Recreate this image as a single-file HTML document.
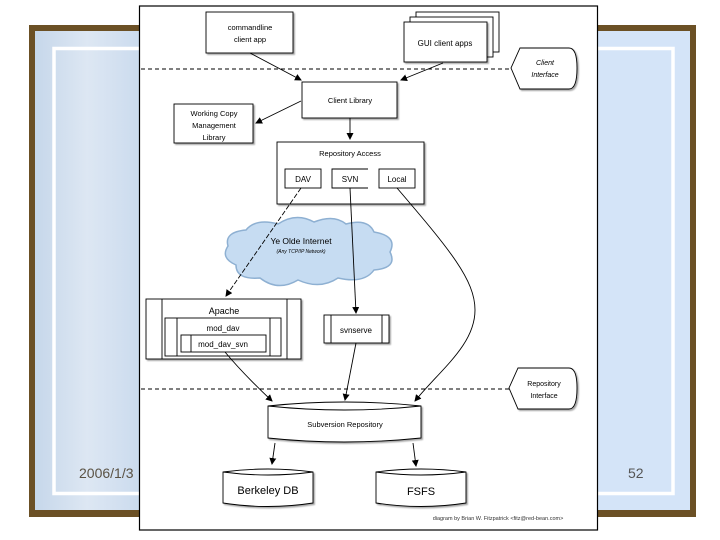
<!DOCTYPE html>
<html><head><meta charset="utf-8"><style>
html,body{margin:0;padding:0;background:#fff;}
svg{display:block;font-family:"Liberation Sans",sans-serif;}
</style></head><body>
<svg width="720" height="540" viewBox="0 0 720 540" xmlns="http://www.w3.org/2000/svg">
<defs>
<linearGradient id="lg" x1="0" x2="1" y1="0" y2="0">
<stop offset="0" stop-color="#c6d7ea"/><stop offset="0.5" stop-color="#dde7f3"/><stop offset="1" stop-color="#cbdbee"/>
</linearGradient>
<marker id="ar" markerWidth="7" markerHeight="7" refX="6" refY="3.5" orient="auto" markerUnits="userSpaceOnUse">
<path d="M0,0 L7,3.5 L0,7 z" fill="#000"/></marker>
<filter id="sh"><feDropShadow dx="1.5" dy="1.5" stdDeviation="0.8" flood-opacity="0.35"/></filter>
</defs>
<rect x="29" y="25" width="667" height="492" fill="#6b5025"/>
<rect x="35" y="31" width="655" height="479" fill="#d4e4f8"/>
<rect x="35" y="31" width="105" height="479" fill="url(#lg)"/>
<rect x="54" y="48.5" width="619" height="445" fill="none" stroke="#fff" stroke-width="3.5"/>
<text x="79" y="478" font-size="14" fill="#5a5244">2006/1/3</text>
<text x="628" y="478" font-size="14" fill="#555">52</text>
<rect x="139.5" y="6" width="458" height="524" fill="#fff" stroke="#000" stroke-width="1.2"/>
<g stroke="#000" stroke-width="0.9" fill="#fff" font-size="7.5" text-anchor="middle">
<line x1="141" y1="69" x2="511" y2="69" stroke-dasharray="4,3"/>
<line x1="141" y1="389" x2="509" y2="389" stroke-dasharray="4,3"/>
<rect x="206" y="12" width="87" height="41" filter="url(#sh)"/>
<text x="250" y="30" stroke="none" fill="#000">commandline</text>
<text x="250" y="42" stroke="none" fill="#000">client app</text>
<rect x="416" y="12" width="83" height="40"/>
<rect x="410" y="17" width="83" height="40"/>
<rect x="404" y="22" width="83" height="40" filter="url(#sh)"/>
<text x="445" y="46" stroke="none" fill="#000" font-size="8">GUI client apps</text>
<path d="M520,48 L569,48 Q577,48 577,68 Q577,89 569,89 L520,89 L511,68 Z" filter="url(#sh)"/>
<text x="545" y="65" stroke="none" fill="#000" font-style="italic" font-size="7">Client</text>
<text x="545" y="77" stroke="none" fill="#000" font-style="italic" font-size="7">Interface</text>
<path d="M518,368 L569,368 Q577,368 577,388 Q577,409 569,409 L518,409 L509,388 Z" filter="url(#sh)"/>
<text x="544" y="386" stroke="none" fill="#000" font-size="7">Repository</text>
<text x="544" y="398" stroke="none" fill="#000" font-size="7">Interface</text>
<rect x="302" y="82" width="95" height="36" filter="url(#sh)"/>
<text x="350" y="103" stroke="none" fill="#000">Client Library</text>
<rect x="174" y="104" width="79" height="39" filter="url(#sh)"/>
<text x="214" y="116" stroke="none" fill="#000">Working Copy</text>
<text x="214" y="128" stroke="none" fill="#000">Management</text>
<text x="214" y="140" stroke="none" fill="#000">Library</text>
<line x1="250" y1="53" x2="301" y2="80" marker-end="url(#ar)"/>
<line x1="443" y1="63" x2="401" y2="80" marker-end="url(#ar)"/>
<line x1="301" y1="101" x2="256" y2="123" marker-end="url(#ar)"/>
<line x1="350" y1="118" x2="350" y2="139" marker-end="url(#ar)"/>
<rect x="277" y="142" width="147" height="62" filter="url(#sh)"/>
<text x="350" y="156" stroke="none" fill="#000">Repository Access</text>
<rect x="285" y="169" width="36" height="19"/><text x="303" y="182" stroke="none" fill="#000" font-size="8">DAV</text>
<path d="M368,169 L332,169 L332,188 L368,188"/><text x="350" y="182" stroke="none" fill="#000" font-size="8">SVN</text>
<rect x="379" y="169" width="36" height="19"/><text x="397" y="182" stroke="none" fill="#000" font-size="8">Local</text>
<path d="M236,265 Q220,258 228,246 Q224,232 246,230 Q256,218 278,224 Q296,212 314,222 Q334,214 346,224 Q368,218 374,232 Q398,236 390,252 Q398,268 374,270 Q364,284 338,278 Q320,290 298,280 Q278,292 260,278 Q236,280 236,265 Z" fill="#c6dcf2" stroke="#8eb0d2" stroke-width="1.5"/>
<text x="301" y="244" stroke="none" fill="#000" font-size="8.5">Ye Olde Internet</text>
<text x="301" y="253" stroke="none" fill="#000" font-size="5" font-style="italic">(Any TCP/IP Network)</text>
<line x1="301" y1="188" x2="226" y2="296" stroke-dasharray="5,2" marker-end="url(#ar)"/>
<line x1="350" y1="188" x2="356" y2="313" marker-end="url(#ar)"/>
<path d="M397,188 C450,250 475,280 475,310 C475,345 440,370 415,401" fill="none" marker-end="url(#ar)"/>
<rect x="146" y="299" width="155" height="60" filter="url(#sh)"/>
<line x1="162" y1="299" x2="162" y2="359"/><line x1="287" y1="299" x2="287" y2="359"/>
<text x="224" y="314" stroke="none" fill="#000" font-size="9">Apache</text>
<rect x="165" y="318" width="116" height="38"/>
<line x1="177" y1="318" x2="177" y2="356"/><line x1="270" y1="318" x2="270" y2="356"/>
<text x="223" y="331" stroke="none" fill="#000" font-size="8">mod_dav</text>
<rect x="181" y="335" width="85" height="17"/><line x1="191" y1="335" x2="191" y2="352"/>
<text x="223" y="347" stroke="none" fill="#000" font-size="8">mod_dav_svn</text>
<rect x="324" y="315" width="65" height="28" filter="url(#sh)"/>
<line x1="331" y1="315" x2="331" y2="343"/><line x1="382" y1="315" x2="382" y2="343"/>
<text x="356" y="333" stroke="none" fill="#000" font-size="8">svnserve</text>
<path d="M225,352 C240,370 255,385 272,401" fill="none" marker-end="url(#ar)"/>
<line x1="356" y1="343" x2="345" y2="400" marker-end="url(#ar)"/>
<path d="M268,406 Q344,398 421,406 L421,438 Q344,446 268,438 Z" filter="url(#sh)"/>
<path d="M268,406 Q344,414 421,406" fill="none"/>
<text x="345" y="427" stroke="none" fill="#000" font-size="7.5">Subversion Repository</text>
<line x1="275" y1="443" x2="272" y2="464" marker-end="url(#ar)"/>
<line x1="413" y1="443" x2="416" y2="466" marker-end="url(#ar)"/>
<path d="M223,472 Q268,466 313,472 L313,503 Q268,510 223,503 Z" filter="url(#sh)"/>
<path d="M223,472 Q268,478 313,472" fill="none"/>
<text x="268" y="494" stroke="none" fill="#000" font-size="11">Berkeley DB</text>
<path d="M376,472 Q421,466 466,472 L466,503 Q421,510 376,503 Z" filter="url(#sh)"/>
<path d="M376,472 Q421,478 466,472" fill="none"/>
<text x="421" y="495" stroke="none" fill="#000" font-size="11">FSFS</text>
<text x="498" y="520" stroke="none" fill="#333" font-size="5.5">diagram by Brian W. Fitzpatrick &lt;fitz@red-bean.com&gt;</text>
</g>
</svg>
</body></html>
